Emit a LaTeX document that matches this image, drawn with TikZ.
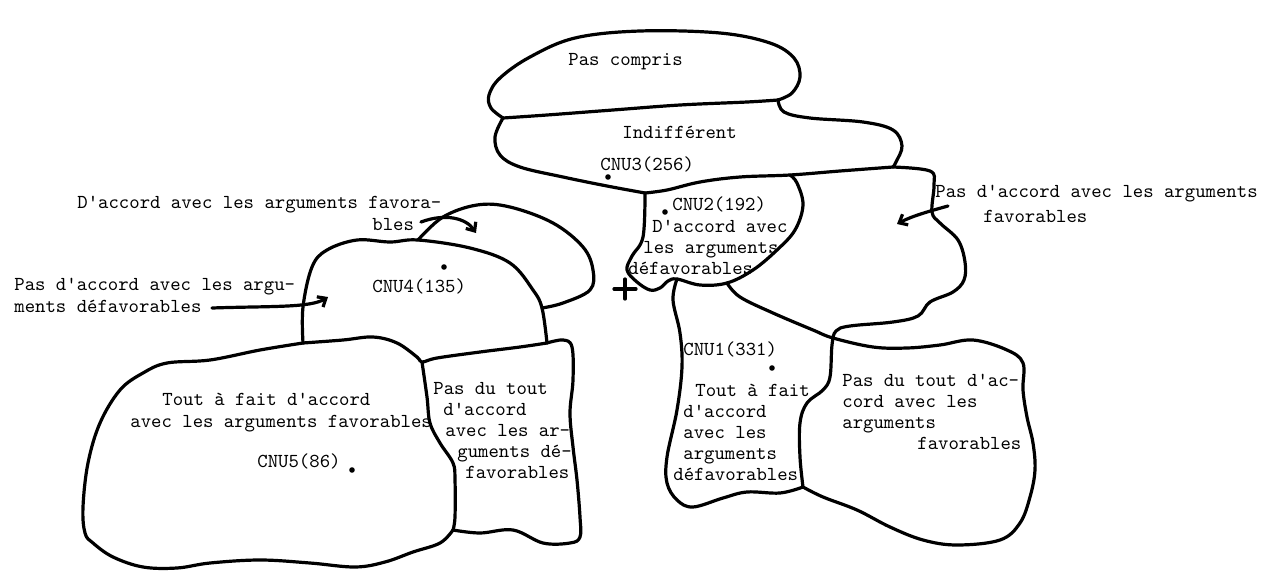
\documentclass[tikz,border=0pt]{standalone}
\usetikzlibrary{arrows.meta}

\tikzset{
  rim/.style={line width=1.6pt, line cap=round, line join=round},
  pointer/.style={rim, -{Straight Barb[length=3.5pt,width=6pt]}},
  txt/.style={font=\fontsize{9.9}{10.4}\selectfont\ttfamily, inner sep=0pt,
              anchor=base west, align=left}
}

\begin{document}
\begin{tikzpicture}[x=0.5pt, y=-0.5pt]

\useasboundingbox (0,0) rectangle (1266,574);

%% =============== Top: Pas compris / Indifferent ===============

  % --- Pas compris outline and shared edge ---
  \draw[rim] plot[smooth, tension=0.6] coordinates {(503,118) (491,108) (489,95) (500,78)
    (530,57) (575,38) (640,31) (720,33) (770,43) (794,58) (800,77) (792,93) (778,100)};
  \draw[rim] plot[smooth, tension=0.6] coordinates {(503,118) (547,115) (613,110) (680,105)
    (747,102) (778,100)};

  % --- Indifferent outline ---
  \draw[rim] plot[smooth, tension=0.6] coordinates {(503,118) (495,137) (500,155) (520,167)
    (563,177) (607,186) (645,193)};
  \draw[rim] plot[smooth, tension=0.6] coordinates {(645,193) (667,190) (700,182) (740,177)
    (790,175) (840,171) (893,167)};
  \draw[rim] plot[smooth, tension=0.6] coordinates {(778,100) (784,112) (810,118) (863,122)
    (893,130) (902,146) (896,162) (893,167)};

%% =============== Right: CNU2, CNU1 and their neighbours ===============

  % --- Pas d'accord (favorables) blob, running into CNU1 right side ---
  \draw[rim] plot[smooth, tension=0.6] coordinates {(893,167) (930,171) (934,185) (932,212)
    (940,223) (958,240) (965,262) (964,280) (953,292) (930,302) (918,316) (893,322)
    (850,326) (836,331) (832,345) (830,377) (823,390) (807,403) (800,423) (800,457)
    (803,487)};

  % --- CNU2 blob ---
  \draw[rim] plot[smooth, tension=0.6] coordinates {(645,193) (643,237) (632,256) (627,270)
    (637,282) (650,290) (660,288) (668,281) (677,279) (700,285) (727,283) (753,270)
    (777,250) (795,230) (803,205) (797,183) (790,175)};

  % --- CNU1 blob ---
  \draw[rim] plot[smooth, tension=0.6] coordinates {(677,279) (673,300) (680,333) (682,367)
    (677,410) (667,457) (667,483) (677,500) (693,507) (723,498) (747,492) (780,493)
    (803,487)};

  % --- Pas du tout (favorables) blob ---
  \draw[rim] plot[smooth, tension=0.6] coordinates {(727,283) (740,297) (773,313) (813,330)
    (833,338) (873,347) (907,348) (940,345) (973,340) (1007,350) (1023,363) (1023,390)
    (1027,417) (1033,443) (1035,470) (1030,497) (1020,523) (1000,540) (957,545)
    (923,540) (890,527) (857,510) (823,497) (803,487)};

  % --- Cross mark ---
  \draw[rim] (614,289) -- (636,289) (625,279) -- (625,299);

%% =============== Left: CNU4, CNU5 and their neighbours ===============

  % --- CNU4 blob and the favorables blob behind it ---
  \draw[rim] plot[smooth, tension=0.6] coordinates {(303,343) (303,307) (312,267) (327,250)
    (357,240) (390,242) (418,240) (470,248) (510,263) (533,290) (542,308) (547,343)};
  \draw[rim] plot[smooth, tension=0.6] coordinates {(418,240) (443,217) (477,205) (510,207)
    (553,223) (583,247) (593,270) (590,290) (563,303) (542,308)};

  % --- CNU4 bottom edge ---
  \draw[rim] plot[smooth, tension=0.6] coordinates {(303,343) (343,340) (373,337) (397,343)
    (417,357) (422,362) (437,358) (480,352) (520,347) (547,343)};

  % --- CNU5 blob ---
  \draw[rim] plot[smooth, tension=0.6] coordinates {(303,343) (260,350) (210,360) (167,363)
    (143,373) (120,390) (100,423) (88,463) (83,507) (85,533) (93,543) (113,557)
    (143,567) (177,568) (210,563) (260,560) (310,563) (355,567) (385,562) (413,552)
    (440,543) (453,530)};
  \draw[rim] plot[smooth, tension=0.6] coordinates {(422,362) (427,397) (430,423) (440,443)
    (453,463) (455,480) (455,517) (453,530)};

  % --- Pas du tout (defavorables) blob ---
  \draw[rim] plot[smooth, tension=0.6] coordinates {(547,343) (563,340) (572,347) (573,380)
    (570,413) (573,447) (577,480) (580,517) (580,537) (570,543) (543,543) (513,530)
    (480,533) (453,530)};

%% =============== CNU points ===============
  \fill (608,177) circle[radius=1.4pt];
  \fill (665,212) circle[radius=1.4pt];
  \fill (444,267) circle[radius=1.4pt];
  \fill (352,470) circle[radius=1.4pt];
  \fill (772,368) circle[radius=1.4pt];

%% =============== Labels (base = last line) ===============
  \node[txt] (pasCompris) at (568,65) {Pas compris};
  \node[txt] (indiff)     at (622,138) {Indifférent};
  \node[txt] (cnuThree)   at (600,170) {CNU3(256)};

  \node[txt] (cnuTwo)     at (672,210) {CNU2(192)};
  \node[txt] (cnuTwoText) at (628,274)
    {\hspace*{12pt}D'accord avec\\\hspace*{7.5pt}les arguments\\défavorables};

  \node[txt] (cnuOne)     at (683,355) {CNU1(331)};
  \node[txt] (cnuOneText) at (673,480)
    {\hspace*{11pt}Tout à fait\\\hspace*{5pt}d'accord\\\hspace*{5pt}avec les\\%
     \hspace*{5pt}arguments\\défavorables};

  \node[txt] (pasDuToutR) at (842,449)
    {Pas du tout d'ac-\\cord avec les\\arguments\\\hspace*{37.5pt}favorables};
  \node[txt] (pasAccFav)  at (935,222)
    {Pas d'accord avec les arguments\\[2pt]\hspace*{24pt}favorables};

  \node[txt] (accFav)     at (77,230)
    {D'accord avec les arguments favora-\\[0.6pt]\hspace*{147.5pt}bles};
  \node[txt] (pasAccDef)  at (14,312)
    {Pas d'accord avec les argu-\\[0.6pt]ments défavorables};
  \node[txt] (cnuFour)    at (372,292) {CNU4(135)};

  \node[txt] (cnuFiveText) at (130,427)
    {\hspace*{16pt}Tout à fait d'accord\\[0.6pt]avec les arguments favorables};
  \node[txt] (cnuFive)    at (257,467) {CNU5(86)};
  \node[txt] (pasDuToutL) at (433,478)
    {Pas du tout\\\hspace*{5pt}d'accord\\\hspace*{6pt}avec les ar-\\%
     \hspace*{12pt}guments dé-\\\hspace*{16pt}favorables};

%% =============== Pointer arrows ===============
  \coordinate (favFrom)   at (421,222);
  \coordinate (favTo)     at (476,233);
  \coordinate (defFrom)   at (212,308);
  \coordinate (defTo)     at (328,297);
  \coordinate (rightFrom) at (948,206);
  \coordinate (rightTo)   at (897,224);

  \draw[pointer] (favFrom) .. controls (445,213) and (466,218) .. (favTo);
  \draw[pointer] (defFrom) .. controls (270,306) and (310,308) .. (defTo);
  \draw[pointer] (rightFrom) .. controls (930,211) and (912,216) .. (rightTo);

\end{tikzpicture}
\end{document}
